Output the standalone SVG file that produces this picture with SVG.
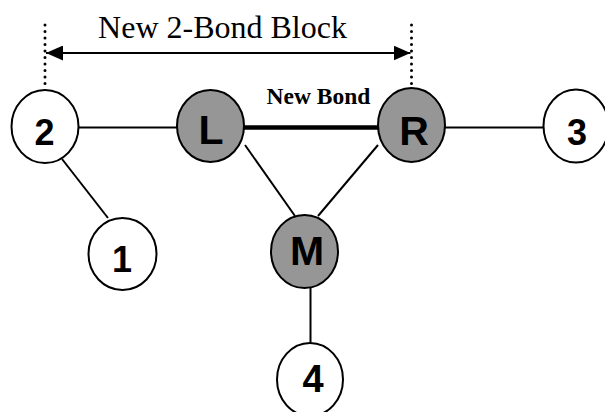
<svg xmlns="http://www.w3.org/2000/svg" width="605" height="412" viewBox="0 0 605 412">
<style>
.node ellipse{stroke:#000;stroke-width:2}
.open{fill:#fff}
.shaded{fill:#969696}
.lbl{font-family:"Liberation Sans",Arial,sans-serif;font-weight:bold;text-anchor:middle;fill:#000}
.bond{stroke:#000;stroke-width:2;fill:none}
.dots{stroke:#000;stroke-width:3;stroke-linecap:round;stroke-dasharray:0 6.5;fill:none}
</style>
<defs>
<marker id="ah" viewBox="0 0 17 15" refX="17" refY="7.5" markerWidth="17" markerHeight="15" markerUnits="userSpaceOnUse" orient="auto-start-reverse">
<path d="M0,0 L17,7.5 L0,15 Z" fill="#000"/>
</marker>
</defs>
<rect width="605" height="412" fill="#fff"/>
<g id="connectors">
<line class="dots" x1="45" y1="25" x2="45" y2="90"/>
<line class="dots" x1="411.5" y1="25" x2="411.5" y2="88"/>
<line class="bond" x1="46" y1="53" x2="410.5" y2="53" marker-start="url(#ah)" marker-end="url(#ah)"/>
<line class="bond" x1="78" y1="127.5" x2="178" y2="127.5"/>
<line x1="243" y1="127.5" x2="379" y2="127.5" stroke="#000" stroke-width="4.5"/>
<line class="bond" x1="445" y1="127.5" x2="545" y2="127.5"/>
<line class="bond" x1="62" y1="159" x2="108" y2="218"/>
<line class="bond" x1="245" y1="145" x2="295" y2="216"/>
<line class="bond" x1="378" y1="145" x2="318" y2="216"/>
<line class="bond" x1="310.5" y1="288" x2="310.5" y2="343"/>
</g>
<text x="222.5" y="38" font-family="'Liberation Serif','Times New Roman',serif" font-size="32" text-anchor="middle">New 2-Bond Block</text>
<text x="318.5" y="104" font-family="'Liberation Serif','Times New Roman',serif" font-size="23.5" font-weight="bold" text-anchor="middle">New Bond</text>
<g id="node2" class="node"><ellipse class="open" cx="45" cy="126.5" rx="33.5" ry="36.5"/><text class="lbl" x="44.5" y="145" font-size="36">2</text></g>
<g id="nodeL" class="node"><ellipse class="shaded" cx="210.5" cy="126" rx="33.5" ry="36"/><text class="lbl" x="211" y="144" font-size="41">L</text></g>
<g id="nodeR" class="node"><ellipse class="shaded" cx="411.5" cy="125" rx="33.5" ry="37"/><text class="lbl" x="414" y="145" font-size="41">R</text></g>
<g id="node3" class="node"><ellipse class="open" cx="576" cy="126" rx="32.5" ry="36.5"/><text class="lbl" x="577" y="145" font-size="36">3</text></g>
<g id="node1" class="node"><ellipse class="open" cx="122.5" cy="254" rx="34" ry="36"/><text class="lbl" x="122" y="271.5" font-size="36">1</text></g>
<g id="nodeM" class="node"><ellipse class="shaded" cx="304.5" cy="251.5" rx="33.5" ry="36.5"/><text class="lbl" x="307" y="265" font-size="41">M</text></g>
<g id="node4" class="node"><ellipse class="open" cx="310" cy="379.5" rx="33" ry="36.5"/><text class="lbl" x="313" y="392" font-size="38">4</text></g>
</svg>
